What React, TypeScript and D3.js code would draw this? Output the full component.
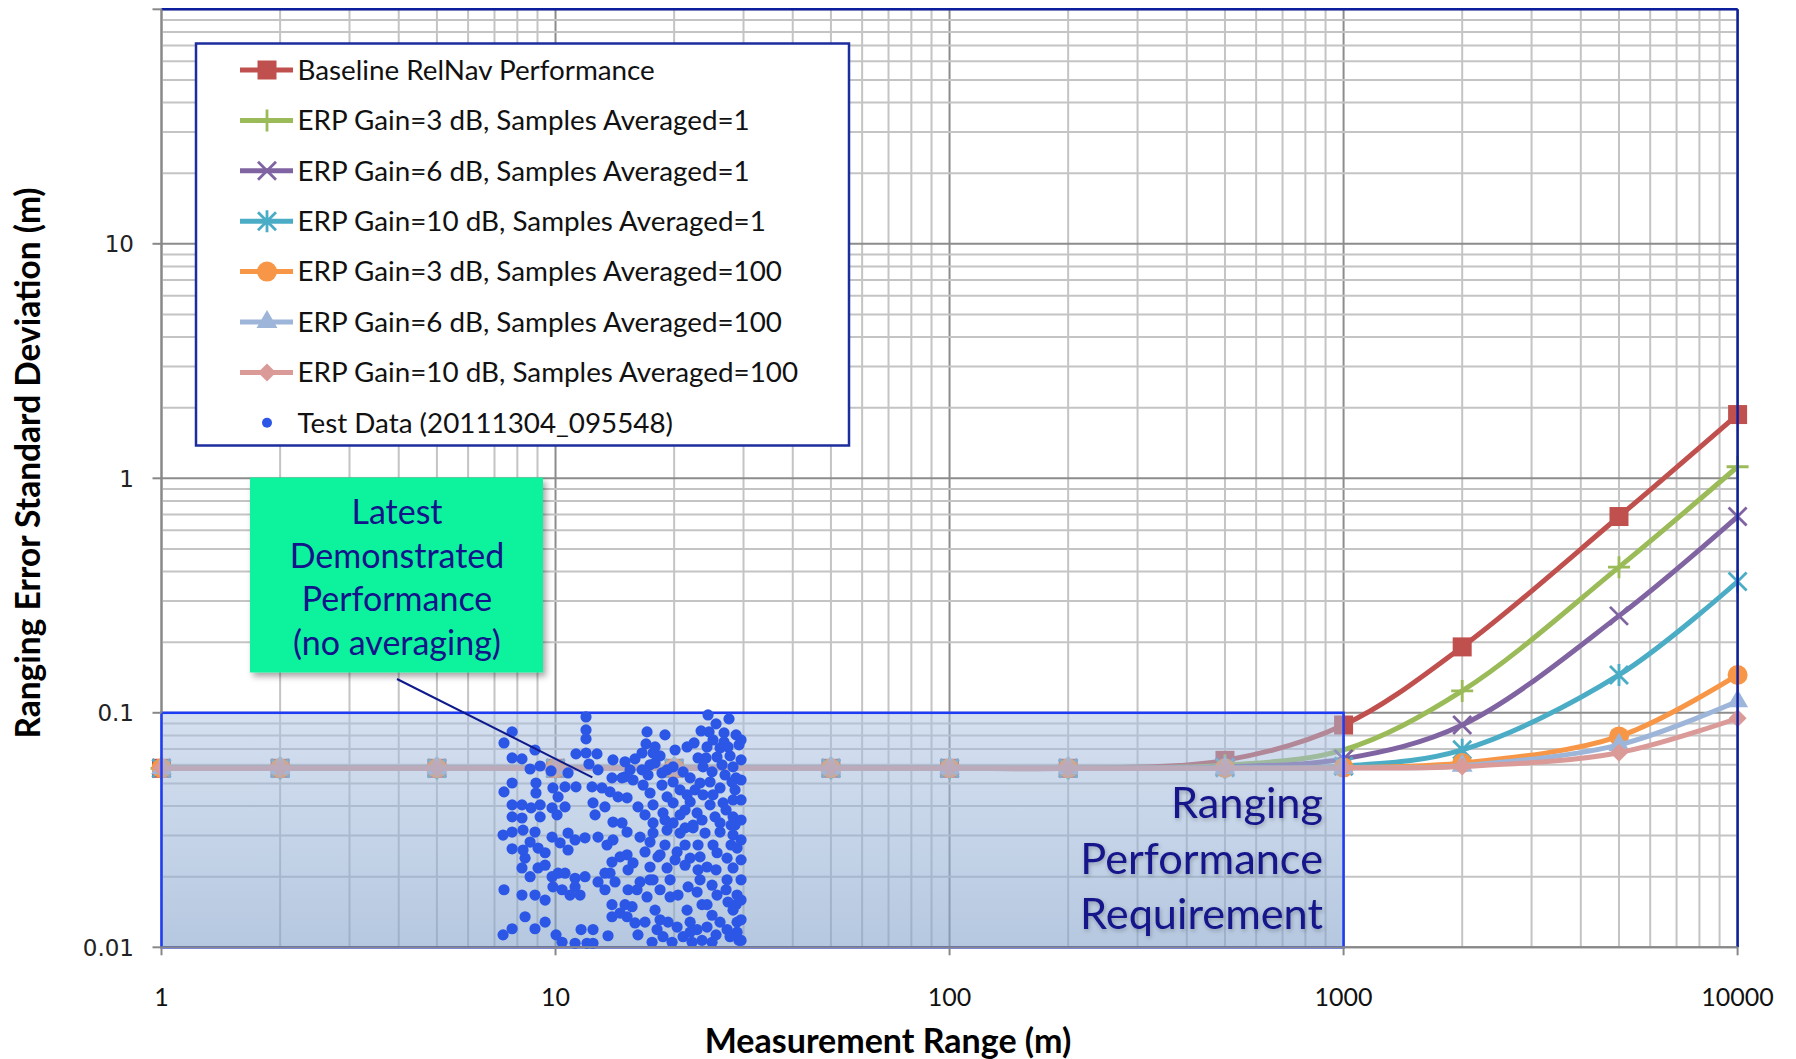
import React from "react";
import * as d3 from "d3";

// taille de la page
const W = 1796, H = 1059;
const plot = { left: 161.5, right: 1737.6, top: 9.3, bottom: 947.3 };

// portée de mesure (m)
const ranges = [1, 2, 5, 10, 20, 50, 100, 200, 500, 1000, 2000, 5000, 10000];

// écart-type de l'erreur (m), une liste par courbe
const baseline = [0.058, 0.058, 0.058, 0.058, 0.058, 0.058, 0.058, 0.058, 0.0627, 0.0887, 0.191, 0.687, 1.87];
const gain3avg1 = [0.058, 0.058, 0.058, 0.058, 0.058, 0.058, 0.058, 0.058, 0.0598, 0.0695, 0.124, 0.418, 1.12];
const gain6avg1 = [0.058, 0.058, 0.058, 0.058, 0.058, 0.058, 0.058, 0.058, 0.0588, 0.0636, 0.0887, 0.259, 0.687];
const gain10avg1 = [0.058, 0.058, 0.058, 0.058, 0.058, 0.058, 0.058, 0.058, 0.0583, 0.0592, 0.0695, 0.145, 0.363];
const gain3avg100 = [0.058, 0.058, 0.058, 0.058, 0.058, 0.058, 0.058, 0.058, 0.058, 0.0584, 0.0611, 0.0793, 0.145];
const gain6avg100 = [0.058, 0.058, 0.058, 0.058, 0.058, 0.058, 0.058, 0.058, 0.058, 0.0582, 0.0595, 0.073, 0.112];
const gain10avg100 = [0.058, 0.058, 0.058, 0.058, 0.058, 0.058, 0.058, 0.058, 0.058, 0.0581, 0.059, 0.0676, 0.0948];

const seriesNames = [
  "Baseline RelNav Performance",
  "ERP Gain=3 dB, Samples Averaged=1",
  "ERP Gain=6 dB, Samples Averaged=1",
  "ERP Gain=10 dB, Samples Averaged=1",
  "ERP Gain=3 dB, Samples Averaged=100",
  "ERP Gain=6 dB, Samples Averaged=100",
  "ERP Gain=10 dB, Samples Averaged=100",
];
const seriesValues = [baseline, gain3avg1, gain6avg1, gain10avg1, gain3avg100, gain6avg100, gain10avg100];
const seriesColors = ["#C0504D", "#9BBB59", "#8064A2", "#4BACC6", "#F79646", "#9DB5D9", "#DA9A98"];
const seriesMarkers = ["square", "plus", "times", "asterisk", "circle", "triangle", "diamond"];

const testName = "Test Data (20111304_095548)";
const testColor = "#2C57E6";

// points de test : [portée (m), écart-type (m)]
const testData = [
  [7.76, 0.0829], [7.40, 0.0744], [7.76, 0.0642], [8.22, 0.0636], [8.62, 0.0576], [9.14, 0.0593],
  [8.87, 0.0694], [9.74, 0.0565], [11.27, 0.0668], [11.95, 0.096], [11.95, 0.0845], [11.95, 0.0774],
  [11.95, 0.0674], [12.74, 0.0668], [12.16, 0.0605], [12.82, 0.0571], [10.76, 0.0554], [7.76, 0.0502],
  [7.40, 0.046], [8.92, 0.0502], [8.92, 0.0455], [9.85, 0.0478], [10.57, 0.0483], [11.27, 0.0483],
  [10.15, 0.0438], [12.38, 0.0483], [13.12, 0.0478], [13.75, 0.046], [13.99, 0.063], [13.91, 0.0528],
  [14.75, 0.0528], [12.45, 0.0413], [12.60, 0.0367], [13.35, 0.0397], [14.41, 0.0438], [7.76, 0.0405],
  [8.22, 0.0405], [8.67, 0.0393], [9.14, 0.0405], [9.80, 0.0393], [10.57, 0.0397], [10.09, 0.0367],
  [7.76, 0.036], [8.22, 0.0356], [9.14, 0.036], [13.99, 0.0342], [14.75, 0.0339],
  [7.36, 0.0301], [7.76, 0.031], [8.27, 0.0316], [8.87, 0.031], [7.76, 0.0263], [8.27, 0.026],
  [8.37, 0.024], [8.22, 0.0218], [8.62, 0.0281], [9.03, 0.0265], [9.41, 0.0253], [9.03, 0.0218],
  [9.41, 0.0224], [8.62, 0.02], [9.80, 0.0295], [10.27, 0.0279], [10.76, 0.0307], [11.21, 0.0287],
  [10.76, 0.026], [11.88, 0.0293], [12.82, 0.0295], [13.51, 0.0273], [13.99, 0.0287], [13.91, 0.0231],
  [14.58, 0.0243], [9.80, 0.02], [10.15, 0.0207], [10.57, 0.0207], [9.85, 0.0181], [10.39, 0.0176],
  [10.88, 0.0167], [11.21, 0.0197], [11.21, 0.0181], [11.88, 0.02], [11.54, 0.0167], [12.82, 0.019],
  [13.35, 0.0207], [13.75, 0.0207], [13.35, 0.0176], [14.16, 0.019], [7.40, 0.0176], [8.22, 0.0167],
  [8.87, 0.0167], [9.41, 0.0159], [13.91, 0.0152], [13.91, 0.0135], [14.58, 0.014], [8.37, 0.0135],
  [9.41, 0.0128], [7.76, 0.012], [7.36, 0.0113], [8.87, 0.012], [10.03, 0.0113], [10.39, 0.0105],
  [11.21, 0.0104], [11.61, 0.0119], [12.02, 0.0104], [12.45, 0.0119], [12.45, 0.0104], [13.59, 0.0112],
  [24.38, 0.0979], [27.56, 0.0942], [17.07, 0.0829], [23.41, 0.0837], [24.53, 0.0829], [26.77, 0.0821],
  [26.77, 0.0751], [16.97, 0.0737], [17.89, 0.0715], [21.57, 0.0715], [22.47, 0.0744], [24.24, 0.0715],
  [26.15, 0.0708], [27.40, 0.0715], [17.68, 0.0674], [18.42, 0.0655], [16.58, 0.0674], [15.91, 0.0636],
  [15.01, 0.0618], [17.89, 0.0611], [24.10, 0.0642], [25.70, 0.0648], [27.73, 0.0655], [19.88, 0.0588],
  [19.19, 0.0571], [16.58, 0.0571], [17.17, 0.0543], [15.01, 0.0533], [15.73, 0.0517], [18.63, 0.0554],
  [21.07, 0.056], [21.96, 0.0528], [23.68, 0.0588], [24.96, 0.056], [28.22, 0.0588], [26.93, 0.0543],
  [28.05, 0.0507], [16.68, 0.0492], [18.63, 0.0492], [19.88, 0.0507], [20.70, 0.0469], [23.27, 0.0502],
  [24.67, 0.0507], [26.15, 0.0478], [28.55, 0.0469], [15.19, 0.0434], [17.37, 0.0455], [19.19, 0.0438],
  [21.57, 0.0447], [23.68, 0.0447], [28.22, 0.0425], [16.19, 0.0397], [17.68, 0.0405], [19.88, 0.0413],
  [21.96, 0.0417], [24.67, 0.0405], [26.62, 0.0413], [16.87, 0.0367], [18.74, 0.0374], [20.70, 0.0367],
  [22.87, 0.0374], [25.40, 0.036], [28.22, 0.036], [17.68, 0.0339], [19.88, 0.0339], [22.34, 0.0332],
  [26.15, 0.0339], [28.55, 0.0332],
  [15.19, 0.031], [16.39, 0.0295], [17.68, 0.0307], [19.19, 0.0316], [20.70, 0.0307], [22.34, 0.0323],
  [23.96, 0.0307], [26.15, 0.031], [28.22, 0.0301], [15.19, 0.0248], [16.87, 0.0255], [18.20, 0.0243],
  [20.35, 0.0255], [21.96, 0.024], [23.27, 0.0243], [25.70, 0.0253], [27.25, 0.024], [28.89, 0.0265],
  [15.73, 0.0229], [17.37, 0.022], [19.19, 0.0218], [21.32, 0.0224], [24.24, 0.022], [28.22, 0.0218],
  [16.39, 0.019], [17.68, 0.0194], [19.53, 0.0194], [21.70, 0.0181], [23.27, 0.0194], [24.96, 0.0184],
  [27.25, 0.0194], [28.89, 0.0167], [16.10, 0.0176], [18.42, 0.0176], [17.07, 0.0164], [19.53, 0.0164],
  [22.87, 0.0172], [25.70, 0.0167], [27.40, 0.0156], [15.01, 0.0152], [15.64, 0.0149], [24.24, 0.0152],
  [28.22, 0.0144], [15.19, 0.0135], [21.57, 0.0144], [21.96, 0.0128], [24.96, 0.0137], [26.15, 0.0128],
  [28.89, 0.0128], [15.91, 0.0127], [16.87, 0.0128], [19.30, 0.0128], [18.10, 0.0119], [20.35, 0.0122],
  [22.87, 0.0119], [24.24, 0.0122], [27.25, 0.0119], [16.19, 0.0113], [17.58, 0.0105], [18.74, 0.0111],
  [19.76, 0.0105], [21.07, 0.0111], [22.21, 0.0105], [24.96, 0.0105], [27.73, 0.0111], [28.89, 0.0116],
  [29.57, 0.0766], [29.57, 0.063], [29.57, 0.0517], [29.57, 0.0425], [29.57, 0.0349], [29.57, 0.0287],
  [29.57, 0.0236], [29.57, 0.0194], [29.57, 0.0159], [29.57, 0.0131], [29.57, 0.0107],
  [25.55, 0.0897], [28.72, 0.0805], [25.1, 0.0766], [29.22, 0.073], [23.0, 0.0642], [26.46, 0.06],
  [22.6, 0.0469], [28.72, 0.0528], [25.1, 0.0447], [27.09, 0.0385], [23.54, 0.0349], [21.32, 0.0323],
  [25.1, 0.0273], [23.0, 0.0273], [27.89, 0.0273], [21.32, 0.0273], [18.96, 0.0273], [17.37, 0.0281],
  [20.11, 0.0236], [25.55, 0.0214], [23.0, 0.0214], [18.42, 0.0248], [27.09, 0.0176], [20.46, 0.0167],
  [23.54, 0.0152], [17.89, 0.0144], [28.72, 0.0152], [25.55, 0.0113], [23.54, 0.0107], [18.42, 0.0131],
  [21.96, 0.0116], [29.22, 0.0107], [17.37, 0.0194], [15.28, 0.0214], [15.28, 0.0176], [18.96, 0.0349],
  [21.32, 0.0385], [27.89, 0.0332], [17.37, 0.06], [20.11, 0.0694], [15.46, 0.0571], [18.96, 0.0805],
];

// zone d'exigence
const reqRange = [1, 1000];
const reqError = [0.01, 0.1];
const reqText = ["Ranging", "Performance", "Requirement"];

// annotation verte
const noteText = ["Latest", "Demonstrated", "Performance", "(no averaging)"];
const notePointer = [12.4, 0.053];

const xTicks = [1, 10, 100, 1000, 10000];
const xTickLabels = ["1", "10", "100", "1000", "10000"];
const yTicks = [0.01, 0.1, 1, 10];
const yTickLabels = ["0.01", "0.1", "1", "10"];

const font = "Lato, 'Open Sans', sans-serif";
const navy = "#13138A";

const markerShape = (type: string, color: string) => {
  const stroke = { fill: "none", stroke: color, strokeWidth: 2.8 };
  switch (type) {
    case "square":
      return <rect x={-9.5} y={-9.5} width={19} height={19} fill={color} />;
    case "plus":
      return <path d="M-11,0H11M0,-11V11" {...stroke} />;
    case "times":
      return <path d="M-9,-9L9,9M-9,9L9,-9" {...stroke} />;
    case "asterisk":
      return <path d="M-9,-9L9,9M-9,9L9,-9M0,-11V11" {...stroke} />;
    case "circle":
      return <circle r={10} fill={color} />;
    case "triangle":
      return <path d={d3.symbol(d3.symbolTriangle, 190)() as string} fill={color} />;
    case "diamond":
      return <path d="M0,-9L9,0L0,9L-9,0Z" fill={color} />;
    default:
      return null;
  }
};

export default function App() {
  const x = d3.scaleLog().domain([1, 10000]).range([plot.left, plot.right]);
  const y = d3.scaleLog().domain([0.01, 100]).range([plot.bottom, plot.top]);

  const isMajor = (v: number) => Math.abs(Math.log10(v) - Math.round(Math.log10(v))) < 1e-9;
  const xGrid = x.ticks();
  const yGrid = y.ticks();

  const line = d3.line<number>()
    .x((_, i) => x(ranges[i]))
    .y((d) => y(d))
    .curve(d3.curveCatmullRom.alpha(0.5));

  const rx0 = x(reqRange[0]), rx1 = x(reqRange[1]);
  const ry0 = y(reqError[1]), ry1 = y(reqError[0]);

  // boîte verte
  const note = { x: 250, y: 477.5, w: 293, h: 195 };

  // légende
  const leg = { x: 196, y: 43.5, w: 653, h: 402, row0: 70, step: 50.4 };

  return (
    <svg width={W} height={H} style={{ position: "absolute", left: 0, top: 0 }} fontFamily={font}>
      <defs>
        <linearGradient id="reqFill" x1="0" y1="0" x2="0" y2="1">
          <stop offset="0%" stopColor="#AAC0E0" stopOpacity={0.5} />
          <stop offset="100%" stopColor="#84A3CB" stopOpacity={0.6} />
        </linearGradient>
        <filter id="shadow" x="-10%" y="-10%" width="130%" height="130%">
          <feDropShadow dx="3" dy="4" stdDeviation="3" floodColor="#000" floodOpacity="0.35" />
        </filter>
        <filter id="glow" x="-10%" y="-10%" width="130%" height="130%">
          <feDropShadow dx="1" dy="2" stdDeviation="2" floodColor="#000" floodOpacity="0.25" />
        </filter>
      </defs>
      <rect width={W} height={H} fill="#fff" />

      {/* grille */}
      {xGrid.map((v, i) => (
        <line key={"gx" + i} x1={x(v)} x2={x(v)} y1={plot.top} y2={plot.bottom}
          stroke={isMajor(v) ? "#8C8C8C" : "#C4C4C4"} strokeWidth={2} />
      ))}
      {yGrid.map((v, i) => (
        <line key={"gy" + i} x1={plot.left} x2={plot.right} y1={y(v)} y2={y(v)}
          stroke={isMajor(v) ? "#8C8C8C" : "#C4C4C4"} strokeWidth={2} />
      ))}

      {/* courbes */}
      {seriesValues.map((vals, s) => (
        <g key={"s" + s}>
          <path d={line(vals) as string} fill="none" stroke={seriesColors[s]} strokeWidth={5} />
          {vals.map((v, i) => (
            <g key={i} transform={`translate(${x(ranges[i])},${y(v)})`}>
              {markerShape(seriesMarkers[s], seriesColors[s])}
            </g>
          ))}
        </g>
      ))}

      {/* zone d'exigence */}
      <rect x={rx0} y={ry0} width={rx1 - rx0} height={ry1 - ry0} fill="url(#reqFill)" />
      <rect x={rx0} y={ry0} width={rx1 - rx0} height={ry1 - ry0} fill="none" stroke="#1F3CF5" strokeWidth={2.5} />

      {/* données de test */}
      {testData.map((d, i) => (
        <circle key={"t" + i} cx={x(d[0])} cy={y(d[1])} r={5.6} fill={testColor} />
      ))}

      {/* axes */}
      <line x1={plot.left} x2={plot.right} y1={plot.top} y2={plot.top} stroke="#0E1F9E" strokeWidth={2.5} />
      <line x1={plot.right} x2={plot.right} y1={plot.top} y2={plot.bottom} stroke="#0E1F9E" strokeWidth={2.5} />
      <line x1={plot.left} x2={plot.left} y1={plot.top} y2={ry0} stroke="#888" strokeWidth={2} />
      <line x1={plot.left} x2={plot.right} y1={plot.bottom} y2={plot.bottom} stroke="#888" strokeWidth={2} />
      {yTicks.concat([100]).map((v, i) => (
        <line key={"ty" + i} x1={plot.left - 9} x2={plot.left} y1={y(v)} y2={y(v)} stroke="#888" strokeWidth={2} />
      ))}
      {xTicks.map((v, i) => (
        <line key={"tx" + i} x1={x(v)} x2={x(v)} y1={plot.bottom} y2={plot.bottom + 8} stroke="#888" strokeWidth={2} />
      ))}
      {yTicks.map((v, i) => (
        <text key={"ly" + i} x={134} y={y(v)} dy="0.36em" textAnchor="end" fontFamily="'DejaVu Sans', sans-serif"
          fontSize={23} fill="#222">{yTickLabels[i]}</text>
      ))}
      {xTicks.map((v, i) => (
        <text key={"lx" + i} x={x(v)} y={1006} textAnchor="middle" fontSize={25} fill="#111">{xTickLabels[i]}</text>
      ))}

      {/* titres */}
      <text x={888} y={1053} textAnchor="middle" fontSize={34} fontWeight="bold" fill="#000">
        Measurement Range (m)
      </text>
      <text transform="translate(40,463) rotate(-90)" textAnchor="middle" fontSize={33.5} fontWeight="bold" fill="#000">
        Ranging Error Standard Deviation (m)
      </text>

      {/* texte de l'exigence */}
      <g filter="url(#glow)">
        {reqText.map((t, i) => (
          <text key={"rq" + i} x={1323} y={818 + i * 55.5} textAnchor="end" fontSize={43.3} fill={navy}>{t}</text>
        ))}
      </g>

      {/* annotation */}
      <rect x={note.x} y={note.y} width={note.w} height={note.h} fill="#0EF29C" filter="url(#shadow)" />
      {noteText.map((t, i) => (
        <text key={"n" + i} x={note.x + note.w / 2 + 0.5} y={524 + i * 43.5} textAnchor="middle" fontSize={34}
          fill={navy}>{t}</text>
      ))}
      <line x1={397} y1={679} x2={x(notePointer[0])} y2={y(notePointer[1])} stroke="#0E1A8C" strokeWidth={2} />

      {/* légende */}
      <rect x={leg.x} y={leg.y} width={leg.w} height={leg.h} fill="#fff" stroke="#1C2D9E" strokeWidth={2.5} />
      {seriesNames.map((name, s) => {
        const cy = leg.row0 + s * leg.step;
        return (
          <g key={"lg" + s}>
            <line x1={240} x2={293} y1={cy} y2={cy} stroke={seriesColors[s]} strokeWidth={5} />
            <g transform={`translate(267,${cy})`}>{markerShape(seriesMarkers[s], seriesColors[s])}</g>
            <text x={297.5} y={cy} dy="0.35em" fontSize={27.8} fill="#111">{name}</text>
          </g>
        );
      })}
      <circle cx={267} cy={leg.row0 + 7 * leg.step} r={5} fill={testColor} />
      <text x={297.5} y={leg.row0 + 7 * leg.step} dy="0.35em" fontSize={27.8} fill="#111">{testName}</text>
    </svg>
  );
}
